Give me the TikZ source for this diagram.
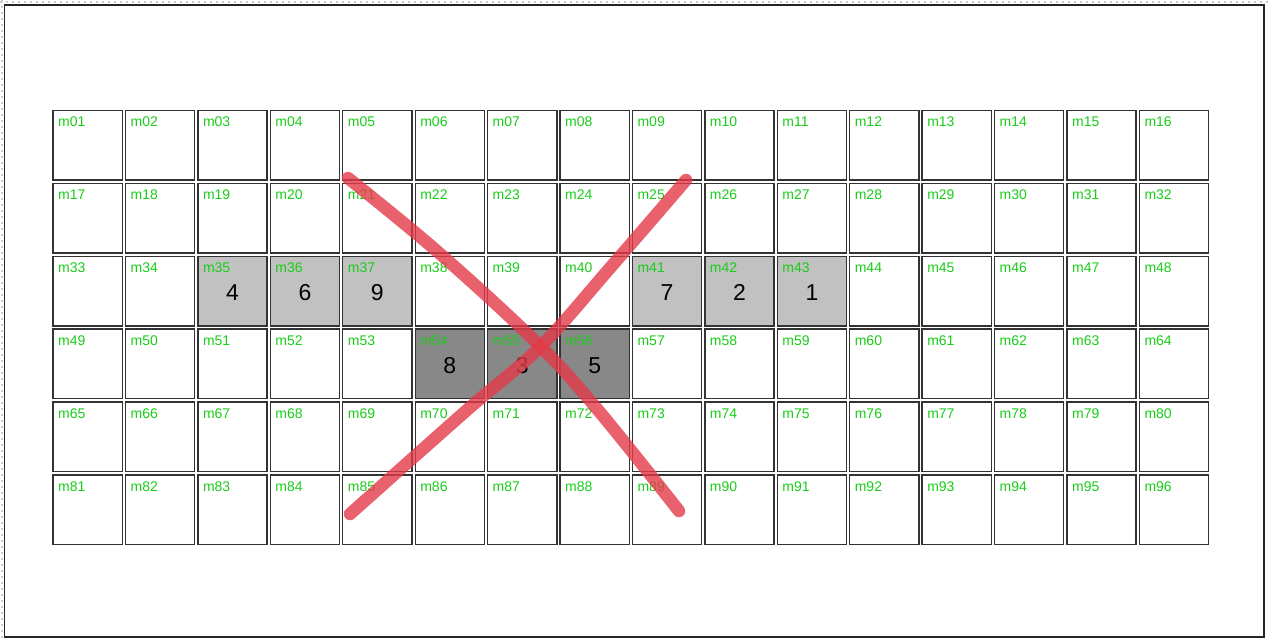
\documentclass[tikz,border=0pt]{standalone}
\usepackage{fontspec}
\setmainfont{Liberation Sans}
\definecolor{labgreen}{RGB}{25,205,25}
\definecolor{lightcell}{RGB}{192,193,192}
\definecolor{darkcell}{RGB}{136,136,136}
\definecolor{xred}{RGB}{228,58,72}
\tikzset{
  cellbox/.style={draw=black!80, line width=1.4pt, minimum width=69.2pt, minimum height=69.6pt, inner sep=0pt, anchor=north west},
  celllabel/.style={text=labgreen, font=\fontsize{14}{16}\selectfont, inner sep=0pt, anchor=base west},
  bignum/.style={text=black, font=\fontsize{23}{25}\selectfont, inner sep=0pt, anchor=center},
  xstroke/.style={draw=xred, line width=12.5pt, line cap=round, draw opacity=0.8},
  frameline/.style={draw=black!85, line width=1.2pt}
}
\begin{document}
\begin{tikzpicture}[x=1pt,y=-1pt]
\path[fill=white,use as bounding box] (0,0) rectangle (1271,640);
\draw[gray!40, line width=2.5pt, dash pattern=on 2pt off 4pt] (0,2) -- (1271,2);
\draw[gray!40, line width=2.5pt, dash pattern=on 2pt off 4pt] (2,0) -- (2,640);
\draw[frameline] (4.6,5) rectangle (1264,637);
\foreach \r in {0,...,5}{
  \foreach \c in {0,...,15}{
    \pgfmathtruncatemacro\n{\r*16+\c+1}
    \pgfmathsetmacro\xx{52.4+\c*72.42}
    \pgfmathsetmacro\yy{109.7+\r*72.9}
    \pgfmathtruncatemacro\kind{((\n>=35 && \n<=37) || (\n>=41 && \n<=43)) ? 1 : ((\n>=54 && \n<=56) ? 2 : 0)}
    \ifcase\kind \def\fc{white}\or \def\fc{lightcell}\or \def\fc{darkcell}\fi
    \ifnum\n<10 \def\lab{m0\n}\else \def\lab{m\n}\fi
    \node[cellbox, fill=\fc] (c\n) at (\xx,\yy) {};
    \node[celllabel] (l\n) at ([xshift=5.6pt,yshift=-17pt]c\n.north west) {\lab};
  }
}
\foreach \n/\v in {35/4,36/6,37/9,41/7,42/2,43/1,54/8,55/3,56/5}{
  \node[bignum] (v\n) at ([yshift=-1.5pt]c\n.center) {\v};
}
\draw[xstroke] plot[smooth, tension=0.6] coordinates {(348,178) (438,252) (537,343) (598,410) (679,511)};
\draw[xstroke] plot[smooth, tension=0.6] coordinates {(686,180) (610,268) (540,347) (467,410) (350,514)};
\end{tikzpicture}
\end{document}
